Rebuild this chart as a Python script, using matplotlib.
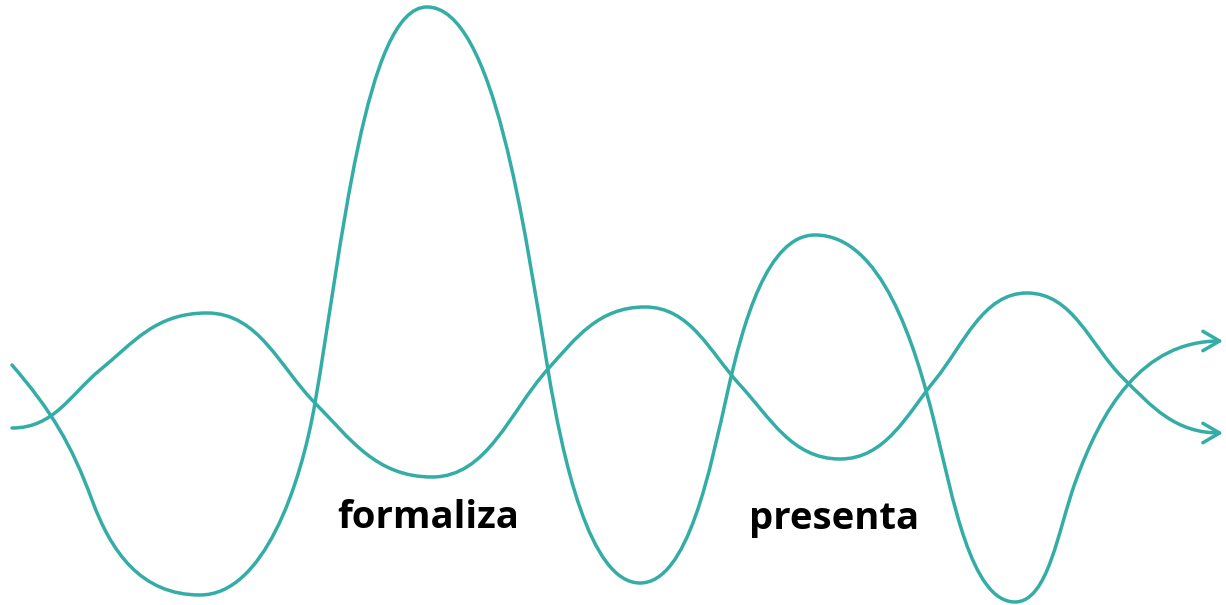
import numpy as np
import matplotlib
matplotlib.use("Agg")
import matplotlib.pyplot as plt
from matplotlib.path import Path
from matplotlib.patches import FancyArrowPatch

# Key points of the two waves (extrema and steepest points), image-like coords (y down)
wave_a_x = [12, 92, 200, 315, 427, 548, 640, 728, 815, 935, 1015, 1075, 1223]
wave_a_y = [365, 500, 595, 403, 7, 370, 583, 390, 235, 425, 602, 483, 341]
wave_b_x = [12, 100, 207, 315, 432, 548, 645, 740, 840, 935, 1027, 1123, 1223]
wave_b_y = [428, 370, 313, 403, 477, 369, 307, 385, 459, 380, 293, 378, 433]

labels = ["formaliza", "presenta"]
label_x = [428, 834]
label_y = [528, 529]

COLOR = "#33ada6"


def wave_path(xs, ys, k, ext_arm=0.55, mid_arm=0.38):
    P = np.column_stack([xs, ys]).astype(float)
    n = len(P)
    D = np.zeros_like(P)
    ext = np.zeros(n, dtype=bool)
    for i in range(1, n - 1):
        if (P[i, 1] - P[i - 1, 1]) * (P[i + 1, 1] - P[i, 1]) < 0:
            D[i] = (1.0, 0.0)
            ext[i] = True
        else:
            v = P[i + 1] - P[i - 1]
            v[0] *= k
            D[i] = v / np.hypot(*v)
    for i, j in [(0, 1), (n - 1, n - 2)]:
        c = P[max(i, j)] - P[min(i, j)]
        if abs(c[1] / c[0]) < 1:
            D[i] = (1.0, 0.0)
            ext[i] = True
        else:
            c = c / np.hypot(*c)
            v = 2 * c - D[j]
            D[i] = v / np.hypot(*v)
    verts = [tuple(P[0])]
    codes = [Path.MOVETO]
    for i in range(n - 1):
        seg = P[i + 1] - P[i]
        d = np.hypot(*seg)
        a1 = ext_arm * seg[0] if ext[i] else mid_arm * d
        a2 = ext_arm * seg[0] if ext[i + 1] else mid_arm * d
        c1 = P[i] + D[i] * a1
        c2 = P[i + 1] - D[i + 1] * a2
        verts += [tuple(c1), tuple(c2), tuple(P[i + 1])]
        codes += [Path.CURVE4] * 3
    return Path(verts, codes)


fig = plt.figure(figsize=(12.26, 6.05), dpi=100)
ax = fig.add_axes([0, 0, 1, 1])
ax.set_xlim(0, 1226)
ax.set_ylim(605, 0)
ax.set_axis_off()

for xs, ys, k, ea, ma in [(wave_a_x, wave_a_y, 0.45, 0.55, 0.38),
                          (wave_b_x, wave_b_y, 0.72, 0.48, 0.36)]:
    path = wave_path(xs, ys, k, ea, ma)
    arrow = FancyArrowPatch(path=path, arrowstyle="->,head_length=0.6,head_width=0.35",
                            mutation_scale=20, color=COLOR, lw=2.5,
                            transform=ax.transData, capstyle="round", joinstyle="round")
    ax.add_patch(arrow)

for t, x, y in zip(labels, label_x, label_y):
    ax.text(x, y, t, ha="center", va="baseline", fontsize=27.5, fontweight="bold",
            family=["Open Sans", "DejaVu Sans"], color="black")

fig.savefig("out.png", dpi=100)
